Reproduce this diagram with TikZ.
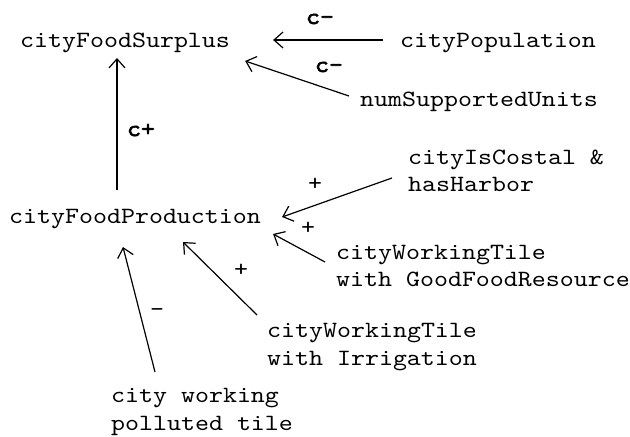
\documentclass[tikz,border=0pt]{standalone}
\usepackage{fontspec}
\newfontfamily\diagfont{lmmono10-regular}[Extension=.otf, FakeStretch=1.143]
\newfontfamily\diagbold{lmmono10-regular}[Extension=.otf, FakeStretch=1.143, FakeBold=2.5]
\usetikzlibrary{arrows.meta}
\tikzset{
    var/.style={inner sep=0, anchor=base west, align=left,
        font=\diagfont\fontsize{23.3bp}{27.5bp}\selectfont},
    sign/.style={inner sep=0, font=\diagfont\fontsize{23.3bp}{27.5bp}\selectfont},
    csign/.style={sign, font=\diagbold\fontsize{23.3bp}{27.5bp}\selectfont},
    link/.style={-{Straight Barb[length=9bp,width=16bp]}, line width=1.2bp}
}
\begin{document}
    \begin{tikzpicture}[x=1bp, y=-1bp]
        \useasboundingbox (0,0) rectangle (630,437);
        \node[var] (surplus) at (20,48) {cityFoodSurplus};
        \node[var] (pop) at (400,48) {cityPopulation};
        \node[var] (units) at (360,107) {numSupportedUnits};
        \node[var] (prod) at (9,224) {cityFoodProduction};
        \node[var] (costal) at (408,192) {cityIsCostal \&\\hasHarbor};
        \node[var] (goodtile) at (336,287) {cityWorkingTile\\with GoodFoodResource};
        \node[var] (irrtile) at (267,365) {cityWorkingTile\\with Irrigation};
        \node[var] (polluted) at (111,430) {city working\\polluted tile};
        \draw[link] ([shift={(-17,-8)}]pop.base west) -- ([shift={(43,-8)}]surplus.base east);
        \draw[link] ([shift={(-11,-11)}]units.base west) -- ([shift={(15,13)}]surplus.base east);
        \draw[link] ([shift={(108,-34)}]prod.base west) -- ([shift={(97,10)}]surplus.base west);
        \draw[link] ([shift={(-16,-14)}]costal.base west) -- ([shift={(21,-7)}]prod.base east);
        \draw[link] ([shift={(-11,-25)}]goodtile.base west) -- ([shift={(12,10)}]prod.base east);
        \draw[link] ([shift={(-10,-50)}]irrtile.base west) -- ([shift={(174,18)}]prod.base west);
        \draw[link] ([shift={(44,-58)}]polluted.base west) -- ([shift={(114,23)}]prod.base west);
        \node[csign] (popSign) at (320,19) {c-};
        \node[csign] (unitsSign) at (329,67) {c-};
        \node[csign] (prodSign) at (141,130) {c+};
        \node[sign] (costalSign) at (315,184) {+};
        \node[sign] (goodSign) at (308,228) {+};
        \node[sign] (irrSign) at (241,270) {+};
        \node[sign] (pollSign) at (157,313) {-};
    \end{tikzpicture}
\end{document}
